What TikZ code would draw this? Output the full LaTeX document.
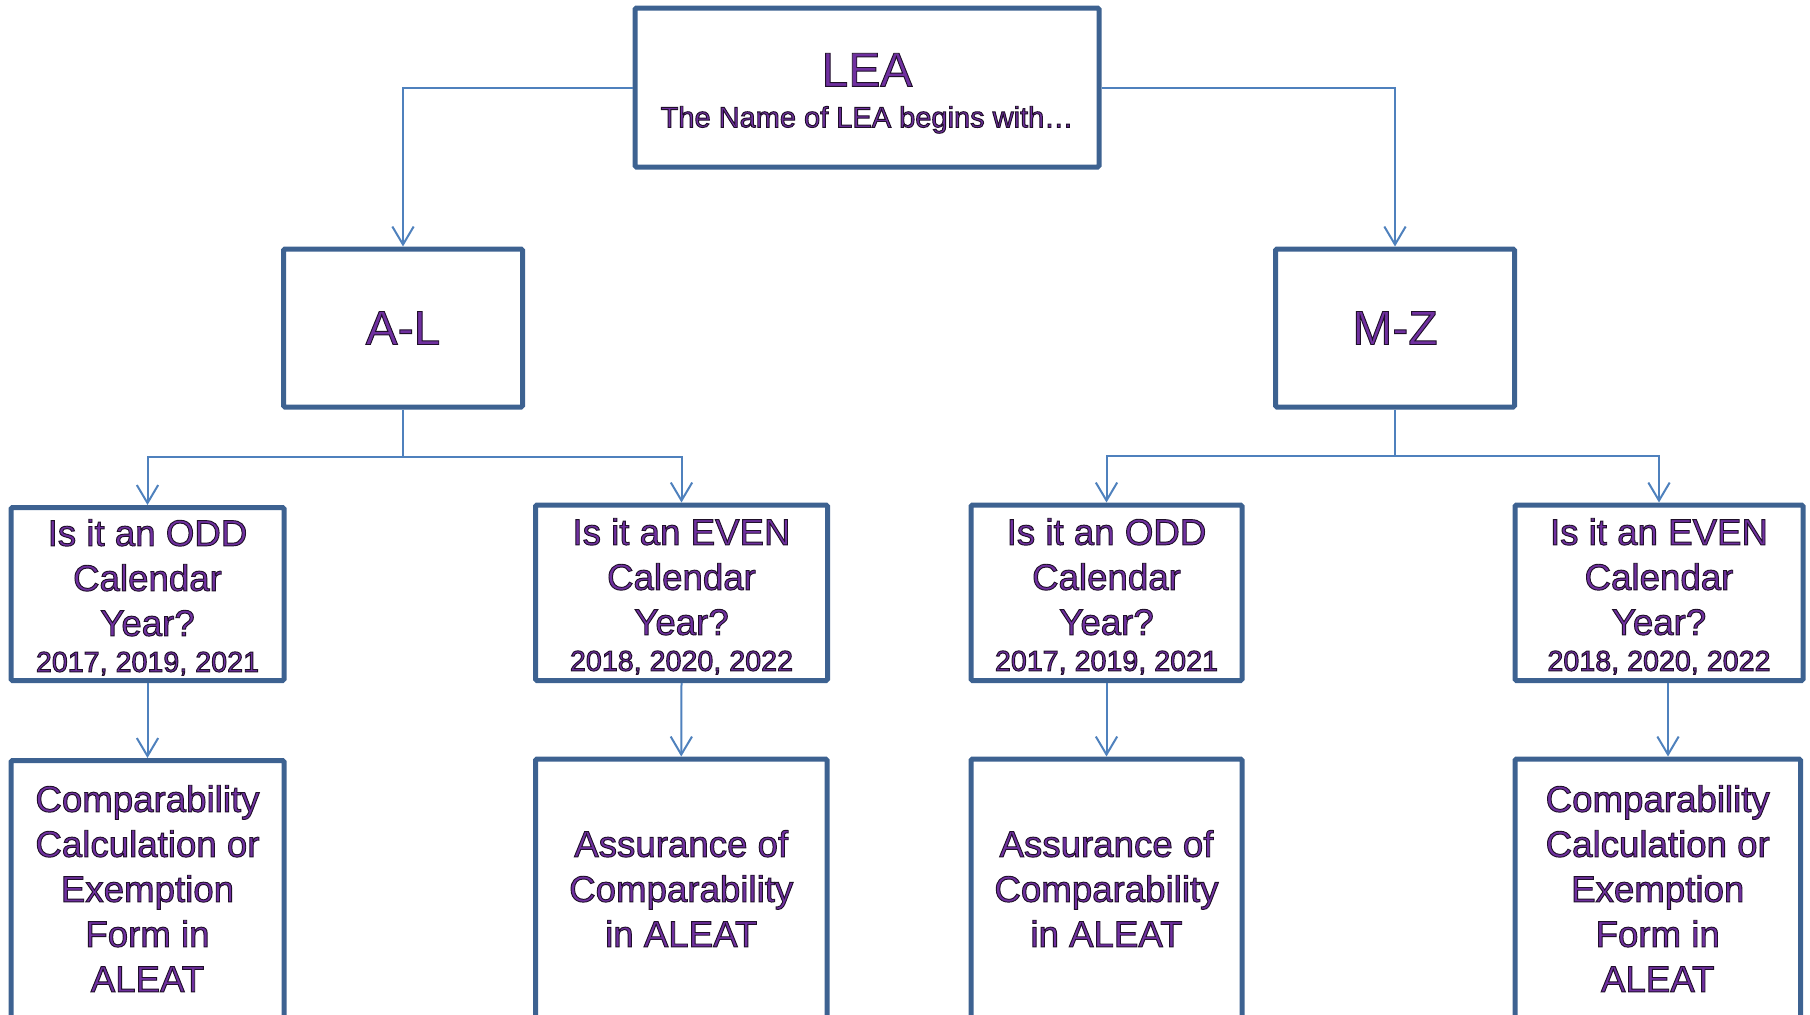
\documentclass[tikz,border=0pt]{standalone}
\usepackage{fontspec}
\setmainfont{Liberation Sans}
\usetikzlibrary{arrows.meta}
\definecolor{boxblue}{HTML}{3D6291}
\definecolor{linkblue}{HTML}{4F81BD}
\definecolor{txtpurple}{HTML}{7030A0}
\newcommand\olbegin{\color{txtpurple}\special{pdf:literal direct q 0.12 0.06 0.16 RG 2 Tr 0.7 w}}
\newcommand\olend{\special{pdf:literal direct Q}}
\tikzset{
  box/.style={draw=boxblue, line width=3.75pt, fill=white, rounded corners=1pt,
    inner sep=0pt, align=center},
  label/.style={inner sep=0pt, align=center,
    execute at begin node=\olbegin, execute at end node=\olend},
  bigtxt/.style={label, font=\fontsize{36}{40}\selectfont},
  qtxt/.style={label, anchor=north, font=\fontsize{27.5}{33.75}\selectfont},
  link/.style={draw=linkblue, line width=1.5pt, -{Straight Barb[length=13.5pt,width=16pt]}}
}
\begin{document}
\begin{tikzpicture}[x=0.75pt,y=-0.75pt]
\useasboundingbox (0,0) rectangle (1810,1014);
\clip (0,0) rectangle (1810,1014);
% boxes
\node[box, minimum width=348pt, minimum height=119.25pt] (lea) at (867,87.5) {};
\node[box, bigtxt, minimum width=179.25pt, minimum height=118.5pt] (al) at (403,328) {A-L};
\node[box, bigtxt, minimum width=179.25pt, minimum height=118.5pt] (mz) at (1395,328) {M-Z};
\node[box, minimum width=204.75pt, minimum height=129.75pt] (r3a) at (147.5,594) {};
\node[box, minimum width=219pt, minimum height=131.625pt] (r3b) at (681.5,592.75) {};
\node[box, minimum width=203.25pt, minimum height=131.625pt] (r3c) at (1106.5,592.75) {};
\node[box, minimum width=216pt, minimum height=131.625pt] (r3d) at (1659,592.75) {};
\node[box, minimum width=204.75pt, minimum height=194.625pt] (r4a) at (147.5,890.25) {};
\node[box, minimum width=218.625pt, minimum height=195.75pt] (r4b) at (681.25,889.5) {};
\node[box, minimum width=203.25pt, minimum height=195.75pt] (r4c) at (1106.5,889.5) {};
\node[box, minimum width=214.125pt, minimum height=195.75pt] (r4d) at (1657.75,889.5) {};
% texts
\node[label, anchor=north, font=\fontsize{21.75}{29.25}\selectfont] (tlea) at (867,53)
  {{\fontsize{36}{29.25}\selectfont LEA}\\[1.5pt]The Name of LEA begins with…};
\node[qtxt] (t3a) at (147.5,519)
  {Is it an ODD\\Calendar\\Year?\\[-6.75pt]{\fontsize{21.5}{27}\selectfont 2017, 2019, 2021}};
\node[qtxt] (t3b) at (681.5,518)
  {Is it an EVEN\\Calendar\\Year?\\[-6.75pt]{\fontsize{21.5}{27}\selectfont 2018, 2020, 2022}};
\node[qtxt] (t3c) at (1106.5,518)
  {Is it an ODD\\Calendar\\Year?\\[-6.75pt]{\fontsize{21.5}{27}\selectfont 2017, 2019, 2021}};
\node[qtxt] (t3d) at (1659,518)
  {Is it an EVEN\\Calendar\\Year?\\[-6.75pt]{\fontsize{21.5}{27}\selectfont 2018, 2020, 2022}};
\node[qtxt] (t4a) at (147.5,785)
  {Comparability\\Calculation or\\Exemption\\Form in\\ALEAT};
\node[qtxt] (t4b) at (681.25,830)
  {Assurance of\\Comparability\\in ALEAT};
\node[qtxt] (t4c) at (1106.5,830)
  {Assurance of\\Comparability\\in ALEAT};
\node[qtxt] (t4d) at (1657.75,785)
  {Comparability\\Calculation or\\Exemption\\Form in\\ALEAT};
% connectors
\coordinate (jl) at (403,457);
\coordinate (jr) at (1395,456);
\draw[link] (lea.west) -| (al.north);
\draw[link] (lea.east) -| (mz.north);
\draw[draw=linkblue, line width=1.5pt] (al.south) -- (jl);
\draw[draw=linkblue, line width=1.5pt] (mz.south) -- (jr);
\draw[link] (jl) -| (r3a.north);
\draw[link] (jl) -| (r3b.north);
\draw[link] (jr) -| (r3c.north);
\draw[link] (jr) -| (r3d.north);
\draw[link] (r3a.south) -- (r4a.north);
\draw[link] (r3b.south) -- (r4b.north);
\draw[link] (r3c.south) -- (r4c.north);
\draw[link] ([xshift=6.75pt]r3d.south) -- ([xshift=6.75pt]r3d.south |- r4d.north);
\end{tikzpicture}
\end{document}
